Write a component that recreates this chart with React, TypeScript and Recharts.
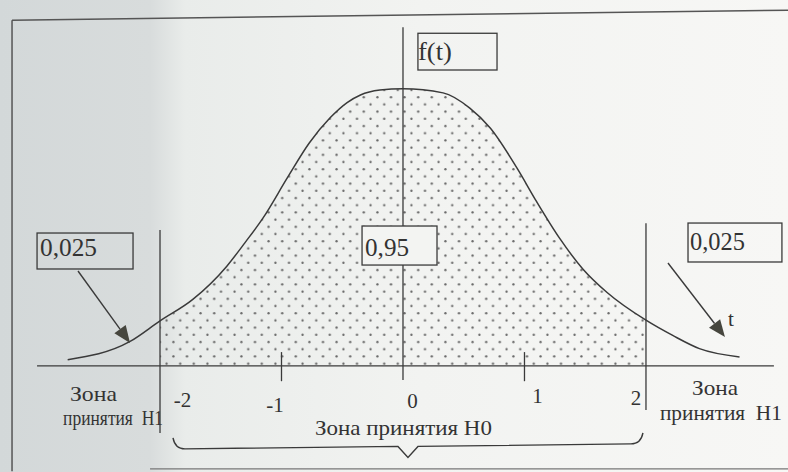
import React from 'react';
import { ComposedChart, Area, Line, XAxis, YAxis, ReferenceLine, ReferenceArea, ReferenceDot } from 'recharts';

// bell curve f(t), sampled along t
const tValues = [-2.76, -2.25, -2, -1.73, -1.45, -1.3, -1.15, -0.95, -0.77, -0.6, -0.46, -0.35, -0.19, 0, 0.33, 0.55, 0.72, 0.94, 1.1, 1.29, 1.48, 1.68, 2, 2.22, 2.44, 2.77];
const fValues = [0.009, 0.035, 0.065, 0.096, 0.144, 0.178, 0.214, 0.272, 0.322, 0.358, 0.38, 0.391, 0.398, 0.4, 0.394, 0.372, 0.343, 0.285, 0.237, 0.184, 0.14, 0.106, 0.066, 0.044, 0.025, 0.013];

const ticks = [-2, -1, 0, 1, 2];
const critical = 2;
const tailShare = 0.025;
const centralShare = 0.95;
const zoneH1 = ['Зона', 'принятия  H1'];
const zoneH0 = 'Зона принятия H0';
const yLabel = 'f(t)';
const xLabel = 't';

const curve = tValues.map((t, i) => ({
  t,
  f: fValues[i],
  shaded: Math.abs(t) <= critical ? fValues[i] : null,
}));

const fmt = (v: number) => String(v).replace('.', ',');

const W = 788;
const H = 472;
const T_DOMAIN: [number, number] = [-3.317, 3.169];
const F_DOMAIN: [number, number] = [-0.153, 0.528];

const ink = '#3a3a3a';
const textInk = '#333';
const serif = 'Liberation Serif, Tinos, Times New Roman, DejaVu Serif, serif';

// per-tick label nudges (px) from the tick position on the axis
const tickDx = [22.5, -6.5, 9.5, 13, -10];
const tickDy = [41, 46, 42, 37, 39];

let measureCtx: CanvasRenderingContext2D | null = null;
function naturalWidth(text: string, size: number) {
  if (!measureCtx) measureCtx = document.createElement('canvas').getContext('2d');
  if (!measureCtx) return text.length * size * 0.5;
  measureCtx.font = `${size}px ${serif}`;
  return measureCtx.measureText(text).width;
}

// serif caption squeezed (or stretched) horizontally to a given width
function NoteText({ x, y, text, size = 24, width }: { x: number; y: number; text: string; size?: number; width?: number }) {
  const sx = width ? width / naturalWidth(text, size) : 1;
  return (
    <text
      transform={`translate(${x} ${y}) scale(${sx} 1)`}
      x={0}
      y={0}
      fontSize={size}
      fill={textInk}
      style={{ whiteSpace: 'pre', fontFamily: serif }}
    >
      {text}
    </text>
  );
}

const boxShape = (text: string, width: number, dx: number, dy: number, fill = 'none') => (p: any) => (
  <g>
    <rect x={p.x} y={p.y} width={p.width} height={p.height} fill={fill} stroke={ink} strokeWidth={1.3} />
    <NoteText x={p.x + dx} y={p.y + dy} text={text} size={25} width={width} />
  </g>
);

const noteShape = (text: string, width?: number, size = 22) => (p: any) => (
  <NoteText x={p.cx} y={p.cy} text={text} width={width} size={size} />
);

const tickShape = (text: string, dx: number, dy: number) => (p: any) => (
  <text x={p.cx + dx} y={p.cy + dy} fontSize={21} fill={textInk} textAnchor="middle" style={{ fontFamily: serif }}>
    {text}
  </text>
);

function Arrow(p: any) {
  const { x1, y1, x2, y2 } = p;
  const a = Math.atan2(y2 - y1, x2 - x1);
  const len = 17;
  const half = 7;
  const bx = x2 - len * Math.cos(a);
  const by = y2 - len * Math.sin(a);
  const nx = -Math.sin(a) * half;
  const ny = Math.cos(a) * half;
  return (
    <g>
      <line x1={x1} y1={y1} x2={bx} y2={by} stroke={ink} strokeWidth={1.4} />
      <polygon points={`${x2},${y2} ${bx + nx},${by + ny} ${bx - nx},${by - ny}`} fill="#46463e" />
    </g>
  );
}

function Brace(p: any) {
  const { x1, y1, x2, y2 } = p;
  const mid = (x1 + x2) / 2;
  const yl = y1 + 11;
  const yr = y2 + 11;
  const ym = (yl + yr) / 2;
  const d = `M${x1},${y1} Q${x1 + 2},${yl} ${x1 + 12},${yl} L${mid - 10},${ym} L${mid},${ym + 11} L${mid + 10},${ym} L${x2 - 12},${yr} Q${x2 - 2},${yr} ${x2},${y2}`;
  return <path d={d} fill="none" stroke={ink} strokeWidth={1.4} />;
}

const seg = (x1: number, y1: number, x2: number, y2: number) => [
  { x: x1, y: y1 },
  { x: x2, y: y2 },
];

export default function App() {
  return (
    <div
      style={{
        position: 'absolute',
        left: 0,
        top: 0,
        width: W,
        height: H,
        background: 'linear-gradient(90deg, #d3d8d9 0px, #d8dcdc 150px, #e9ecea 185px, #f2f3f1 420px, #f7f7f5 788px)',
      }}
    >
      <ComposedChart width={W} height={H} data={curve} margin={{ top: 0, right: 0, bottom: 0, left: 0 }}>
        <defs>
          <pattern id="dots" width={13.6} height={14.4} patternUnits="userSpaceOnUse">
            <circle cx={3.4} cy={3.6} r={1.15} fill="#666" />
            <circle cx={10.2} cy={10.8} r={1.15} fill="#666" />
          </pattern>
        </defs>
        <XAxis type="number" dataKey="t" domain={T_DOMAIN} allowDataOverflow hide />
        <YAxis type="number" domain={F_DOMAIN} allowDataOverflow hide />

        <Area
          type="monotone"
          dataKey="shaded"
          stroke="none"
          fill="url(#dots)"
          fillOpacity={1}
          baseValue={0}
          dot={false}
          activeDot={false}
          isAnimationActive={false}
        />
        <Line type="monotone" dataKey="f" stroke={ink} strokeWidth={1.5} dot={false} activeDot={false} isAnimationActive={false} />

        {/* page frame */}
        <ReferenceLine segment={seg(-3.218, 0.4989, 3.169, 0.5133)} stroke="#555" strokeWidth={1.5} ifOverflow="visible" />
        <ReferenceLine segment={seg(-3.218, 0.4989, -3.218, -0.152)} stroke="#555" strokeWidth={1.5} ifOverflow="visible" />
        <ReferenceLine segment={seg(-2.082, -0.1485, 3.169, -0.1485)} stroke="#777" strokeWidth={1.3} ifOverflow="visible" />

        {/* axes */}
        <ReferenceLine segment={seg(-3.012, 0, 3.053, 0)} stroke={ink} strokeWidth={1.3} ifOverflow="visible" />
        <ReferenceLine segment={seg(0, 0.4888, 0, 0.2019)} stroke={ink} strokeWidth={1.3} ifOverflow="visible" />
        <ReferenceLine segment={seg(0, 0.1456, 0, -0.0202)} stroke={ink} strokeWidth={1.3} ifOverflow="visible" />
        <ReferenceLine segment={seg(-critical, 0.196, -critical, -0.0966)} stroke={ink} strokeWidth={1.3} ifOverflow="visible" />
        <ReferenceLine segment={seg(critical, 0.206, critical, -0.0634)} stroke={ink} strokeWidth={1.3} ifOverflow="visible" />
        {ticks
          .filter((v) => Math.abs(v) === 1)
          .map((v) => (
            <ReferenceLine key={`tk${v}`} segment={seg(v, 0.02, v, -0.022)} stroke={ink} strokeWidth={1.3} ifOverflow="visible" />
          ))}
        {ticks.map((v, i) => (
          <ReferenceDot key={`tl${v}`} x={v} y={0} r={1} ifOverflow="visible" shape={tickShape(String(v), tickDx[i], tickDy[i])} />
        ))}

        {/* boxed labels */}
        <ReferenceArea x1={0.123} x2={0.774} y1={0.427} y2={0.48} ifOverflow="visible" shape={boxShape(yLabel, 34, 0, 27)} />
        <ReferenceArea x1={-3.012} x2={-2.222} y1={0.1399} y2={0.1918} ifOverflow="visible" shape={boxShape(fmt(tailShare), 57, 3, 23)} />
        <ReferenceArea x1={-0.337} x2={0.28} y1={0.1456} y2={0.2019} ifOverflow="visible" shape={boxShape(fmt(centralShare), 44, 3, 30, '#f3f4f2')} />
        <ReferenceArea x1={2.346} x2={3.119} y1={0.15} y2={0.2062} ifOverflow="visible" shape={boxShape(fmt(tailShare), 55, 2, 27)} />

        {/* arrows to the tails */}
        <ReferenceLine segment={seg(-2.675, 0.137, -2.247, 0.0332)} ifOverflow="visible" shape={Arrow} />
        <ReferenceLine segment={seg(2.181, 0.1485, 2.65, 0.0418)} ifOverflow="visible" shape={Arrow} />
        <ReferenceDot x={2.675} y={0.0577} r={1} ifOverflow="visible" shape={noteShape(xLabel, undefined, 21)} />

        {/* zone captions */}
        <ReferenceDot x={-2.741} y={-0.0505} r={1} ifOverflow="visible" shape={noteShape(zoneH1[0], 47, 21)} />
        <ReferenceDot x={-2.798} y={-0.0851} r={1} ifOverflow="visible" shape={noteShape(zoneH1[1], 100, 21)} />
        <ReferenceDot x={2.379} y={-0.0418} r={1} ifOverflow="visible" shape={noteShape(zoneH1[0], 46, 21)} />
        <ReferenceDot x={2.115} y={-0.0779} r={1} ifOverflow="visible" shape={noteShape(zoneH1[1], 122, 21)} />
        <ReferenceDot x={-0.724} y={-0.0995} r={1} ifOverflow="visible" shape={noteShape(zoneH0, 177)} />
        <ReferenceLine segment={seg(-1.893, -0.1038, 1.975, -0.0966)} ifOverflow="visible" shape={Brace} />
      </ComposedChart>
    </div>
  );
}
